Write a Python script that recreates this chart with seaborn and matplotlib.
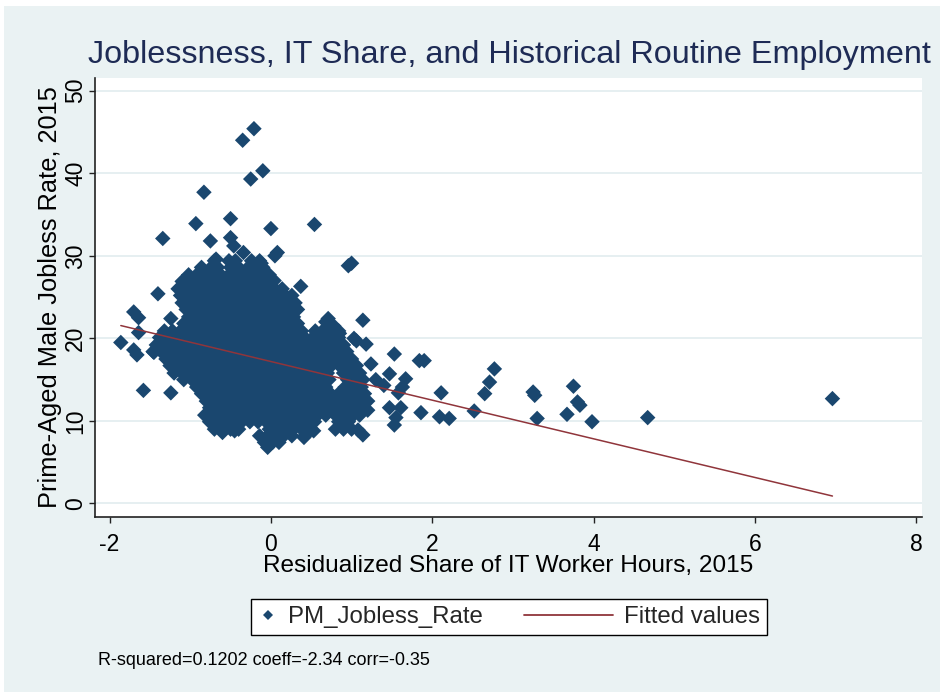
import numpy as np
import pandas as pd
import matplotlib
matplotlib.use("Agg")
import matplotlib.pyplot as plt
from matplotlib.lines import Line2D
from matplotlib.patches import Rectangle
from matplotlib.legend_handler import HandlerLine2D
import seaborn as sns

sns.set_style("ticks")
plt.rcParams['font.family'] = ['Liberation Sans', 'DejaVu Sans']

NAVY = '#1A476F'
MAROON = '#90353B'
BG = '#EAF2F3'

title = "Joblessness, IT Share, and Historical Routine Employment"
x_label = "Residualized Share of IT Worker Hours, 2015"
y_label = "Prime-Aged Male Jobless Rate, 2015"
note = "R-squared=0.1202 coeff=-2.34 corr=-0.35"
series_names = ["PM_Jobless_Rate", "Fitted values"]
x_ticks = [-2, 0, 2, 4, 6, 8]
y_ticks = [0, 10, 20, 30, 40, 50]

# fitted values (endpoints of the OLS line as drawn)
fit_x = [-1.86, 6.96]
fit_y = [21.55, 0.90]

# scattered points read individually
outlier_x = [-0.21, -0.35, -0.10, -0.25, -0.83, -0.93, -0.50, 0.00, 0.54, -1.34,
             -0.75, -0.50, -0.46, -0.34, 0.08, 0.05, -0.68, -0.21, -0.12, 0.96,
             1.00, 0.04, 0.37, 0.21, 0.29, -1.40, -1.70, -1.64, -1.24, -1.64,
             -1.86, -1.70, -1.66, -1.45, -1.58, -1.24, 0.71, 0.68, 0.78, 0.85,
             1.14, 1.03, 1.06, 1.18, 1.53, 1.84, 1.90, 1.24, 1.47, 1.30,
             1.40, 1.67, 1.63, 1.58, 1.20, 1.47, 1.61, 1.55, 1.53, 1.86,
             2.09, 2.21, 2.11, 2.52, 2.65, 2.71, 2.77, 3.25, 3.27, 3.30,
             3.67, 3.75, 3.80, 3.83, 3.98, 4.67, 6.96, 1.14, 0.96, 1.08,
             0.91, 0.41, 0.53, -0.04, -0.60, -0.45]
outlier_y = [45.4, 44.0, 40.3, 39.3, 37.7, 33.9, 34.5, 33.3, 33.8, 32.1,
             31.8, 32.2, 31.2, 30.4, 30.4, 30.0, 29.6, 28.7, 29.1, 28.8,
             29.1, 27.0, 26.3, 24.6, 23.4, 25.4, 23.2, 22.5, 22.4, 20.7,
             19.5, 18.6, 18.0, 18.3, 13.7, 13.4, 22.4, 22.0, 21.5, 20.6,
             22.2, 20.0, 19.7, 19.3, 18.1, 17.3, 17.3, 16.9, 15.7, 15.0,
             14.3, 15.1, 14.1, 13.4, 11.3, 11.6, 11.6, 10.4, 9.5, 11.0,
             10.5, 10.3, 13.4, 11.2, 13.3, 14.7, 16.3, 13.5, 13.1, 10.3,
             10.8, 14.2, 12.3, 11.9, 9.9, 10.4, 12.7, 8.3, 10.0, 8.9,
             9.7, 8.0, 8.8, 6.8, 8.6, 8.8]

# dense core, read row by row (jobless rate of the row, then the x positions)
core_row_y = [29.4, 28.6, 27.7, 26.9, 26.0, 25.2, 24.3, 23.5, 22.6, 21.8,
              20.9, 20.1, 19.2, 18.4, 17.5, 16.7, 15.8, 15.0, 14.1, 13.3,
              12.4, 11.6, 10.7, 9.9, 9.0, 8.2, 7.4]
core_row_x = [
    [-0.70, -0.52, -0.44, -0.24, -0.14],
    [-0.86, -0.74, -0.66, -0.50, -0.40, -0.28, -0.18, -0.10],
    [-1.02, -0.92, -0.82, -0.72, -0.62, -0.52, -0.42, -0.32, -0.22, -0.12, -0.02],
    [-1.10, -1.00, -0.90, -0.80, -0.70, -0.60, -0.50, -0.40, -0.30, -0.20, -0.10, 0.02],
    [-1.15, -1.05, -0.95, -0.85, -0.75, -0.65, -0.55, -0.45, -0.35, -0.25, -0.15, -0.05,
     0.05, 0.14],
    [-1.12, -1.02, -0.92, -0.82, -0.72, -0.62, -0.52, -0.42, -0.32, -0.22, -0.12, -0.02,
     0.08, 0.18, 0.26],
    [-1.10, -1.00, -0.90, -0.80, -0.70, -0.60, -0.50, -0.40, -0.30, -0.20, -0.10, 0.00,
     0.10, 0.20, 0.30],
    [-1.05, -0.95, -0.85, -0.75, -0.65, -0.55, -0.45, -0.35, -0.25, -0.15, -0.05, 0.05,
     0.15, 0.25, 0.33],
    [-1.02, -0.92, -0.82, -0.72, -0.62, -0.52, -0.42, -0.32, -0.22, -0.12, -0.02, 0.08,
     0.18, 0.28],
    [-1.08, -0.98, -0.88, -0.78, -0.68, -0.58, -0.48, -0.38, -0.28, -0.18, -0.08, 0.02,
     0.12, 0.22, 0.33],
    [-1.32, -1.22, -1.12, -1.02, -0.92, -0.82, -0.72, -0.62, -0.52, -0.42, -0.32, -0.22,
     -0.12, -0.02, 0.08, 0.18, 0.28, 0.38, 0.55, 0.64, 0.74, 0.84],
    [-1.38, -1.28, -1.18, -1.08, -0.98, -0.88, -0.78, -0.68, -0.58, -0.48, -0.38, -0.28,
     -0.18, -0.08, 0.02, 0.12, 0.22, 0.32, 0.42, 0.52, 0.62, 0.72, 0.84],
    [-1.42, -1.32, -1.22, -1.12, -1.02, -0.92, -0.82, -0.72, -0.62, -0.52, -0.42, -0.32,
     -0.22, -0.12, -0.02, 0.08, 0.18, 0.28, 0.38, 0.48, 0.58, 0.68, 0.78, 0.90],
    [-1.46, -1.36, -1.26, -1.16, -1.06, -0.96, -0.86, -0.76, -0.66, -0.56, -0.46, -0.36,
     -0.26, -0.16, -0.06, 0.04, 0.14, 0.24, 0.34, 0.44, 0.54, 0.64, 0.74, 0.84, 0.94],
    [-1.30, -1.20, -1.10, -1.00, -0.90, -0.80, -0.70, -0.60, -0.50, -0.40, -0.30, -0.20,
     -0.10, 0.00, 0.10, 0.20, 0.30, 0.40, 0.50, 0.60, 0.70, 0.80, 0.90, 1.00],
    [-1.25, -1.15, -1.05, -0.95, -0.85, -0.75, -0.65, -0.55, -0.45, -0.35, -0.25, -0.15,
     -0.05, 0.05, 0.15, 0.25, 0.35, 0.45, 0.55, 0.65, 0.75, 0.85, 0.95, 1.06],
    [-1.20, -1.10, -1.00, -0.90, -0.80, -0.70, -0.60, -0.50, -0.40, -0.30, -0.20, -0.10,
     0.00, 0.10, 0.20, 0.30, 0.40, 0.50, 0.60, 0.70, 0.90, 1.00, 1.10],
    [-1.08, -0.98, -0.88, -0.78, -0.68, -0.58, -0.48, -0.38, -0.28, -0.18, -0.08, 0.02,
     0.12, 0.22, 0.32, 0.42, 0.52, 0.62, 0.72, 0.95, 1.05, 1.14],
    [-0.92, -0.82, -0.72, -0.62, -0.52, -0.42, -0.32, -0.22, -0.12, -0.02, 0.08, 0.18,
     0.28, 0.38, 0.48, 0.58, 0.68, 0.92, 1.02, 1.12],
    [-0.86, -0.76, -0.66, -0.56, -0.46, -0.36, -0.26, -0.16, -0.06, 0.04, 0.14, 0.24,
     0.34, 0.44, 0.54, 0.64, 0.74, 0.84, 0.94, 1.04, 1.16],
    [-0.80, -0.70, -0.60, -0.50, -0.40, -0.30, -0.20, -0.10, 0.00, 0.10, 0.20, 0.30,
     0.40, 0.50, 0.60, 0.70, 0.80, 0.90, 1.00, 1.10, 1.20],
    [-0.76, -0.66, -0.56, -0.46, -0.36, -0.26, -0.16, -0.06, 0.04, 0.14, 0.24, 0.34,
     0.44, 0.54, 0.64, 0.74, 0.84, 0.94, 1.04, 1.14],
    [-0.82, -0.72, -0.62, -0.52, -0.42, -0.32, -0.22, -0.12, -0.02, 0.08, 0.18, 0.28,
     0.38, 0.48, 0.58, 0.68, 0.80, 0.92, 1.02, 1.10],
    [-0.76, -0.66, -0.56, -0.46, -0.36, -0.26, -0.16, -0.06, 0.04, 0.14, 0.24, 0.34,
     0.44, 0.54, 0.84, 0.96],
    [-0.70, -0.60, -0.50, -0.40, -0.02, 0.08, 0.18, 0.28, 0.38, 0.50, 0.80, 0.90, 1.00],
    [-0.14, -0.04, 0.06, 0.16, 0.26, 0.42],
    [-0.08, 0.02, 0.10],
]

xs = list(outlier_x)
ys = list(outlier_y)
for ry, rx in zip(core_row_y, core_row_x):
    xs.extend(rx)
    ys.extend([ry] * len(rx))
df = pd.DataFrame({"it_share": xs, "jobless": ys})
fit_df = pd.DataFrame({"it_share": fit_x, "fitted": fit_y})


class LongLineHandler(HandlerLine2D):
    def __init__(self, extra, **kw):
        super().__init__(**kw)
        self.extra = extra

    def get_xdata(self, legend, xdescent, ydescent, width, height, fontsize):
        xdata, xdata_marker = super().get_xdata(legend, xdescent, ydescent, width, height, fontsize)
        xdata = np.array([-xdescent - self.extra * fontsize, -xdescent + width])
        return xdata, xdata_marker


W, H = 940, 692
fig = plt.figure(figsize=(9.4, 6.92), dpi=100, facecolor='white')
fig.add_artist(Rectangle((4 / W, 0), 1, 686 / H, transform=fig.transFigure,
                         facecolor=BG, edgecolor='none', zorder=-10))

ax = fig.add_axes([95 / W, (H - 517) / H, 827 / W, 439 / H])
ax.set_facecolor('white')

sns.scatterplot(data=df, x="it_share", y="jobless", marker='D', s=62, color=NAVY,
                edgecolor='none', linewidth=0, ax=ax, legend=False, zorder=3)
sns.lineplot(data=fit_df, x="it_share", y="fitted", color=MAROON, linewidth=1.1,
             ax=ax, zorder=4)

ax.set_xlim(-2.18, 8.07)
ax.set_ylim(-1.64, 51.54)
ax.set_xticks(x_ticks)
ax.set_yticks(y_ticks)
ax.set_xticklabels([str(t) for t in x_ticks])
ax.set_yticklabels([str(t) for t in y_ticks])
ax.grid(axis='y', color='#E2ECEF', linewidth=1.2)
ax.grid(axis='x', visible=False)
ax.set_axisbelow(True)
for s in ['top', 'right']:
    ax.spines[s].set_visible(False)
for s in ['left', 'bottom']:
    ax.spines[s].set_color('#222222')
    ax.spines[s].set_linewidth(1.2)
ax.tick_params(direction='out', length=4.5, width=1, color='#222222',
               labelsize=16.5, labelcolor='black')
ax.tick_params(axis='x', pad=7)
ax.tick_params(axis='y', pad=1)
for lab in ax.get_yticklabels():
    lab.set_rotation(90)
    lab.set_va('center')
ax.set_xlabel(x_label, fontsize=17.6, labelpad=-1, color='black')
ax.set_ylabel(y_label, fontsize=18.3, labelpad=2, color='black')

fig.text(509 / W, 1 - 63 / H, title, ha='center', va='baseline', fontsize=23.3,
         color='#1E2B55')
fig.text(98 / W, 1 - 665 / H, note, ha='left', va='baseline', fontsize=13, color='black')

h1 = Line2D([], [], marker='D', linestyle='none', color=NAVY, markersize=5.0,
            markeredgewidth=0)
h2 = Line2D([], [], color=MAROON, linewidth=1.3)
leg = fig.legend([h1, h2], series_names, loc='center',
                 bbox_to_anchor=(509 / W, 1 - 617 / H), ncol=2, fontsize=17.3,
                 frameon=True, fancybox=False, edgecolor='black', facecolor='white',
                 framealpha=1, handlelength=0.8, handletextpad=0.45, columnspacing=4.6,
                 borderpad=0.3, borderaxespad=0,
                 handler_map={h2: LongLineHandler(2.9)})
leg.get_frame().set_linewidth(1.0)

fig.savefig("out.png", dpi=100, facecolor=fig.get_facecolor())
